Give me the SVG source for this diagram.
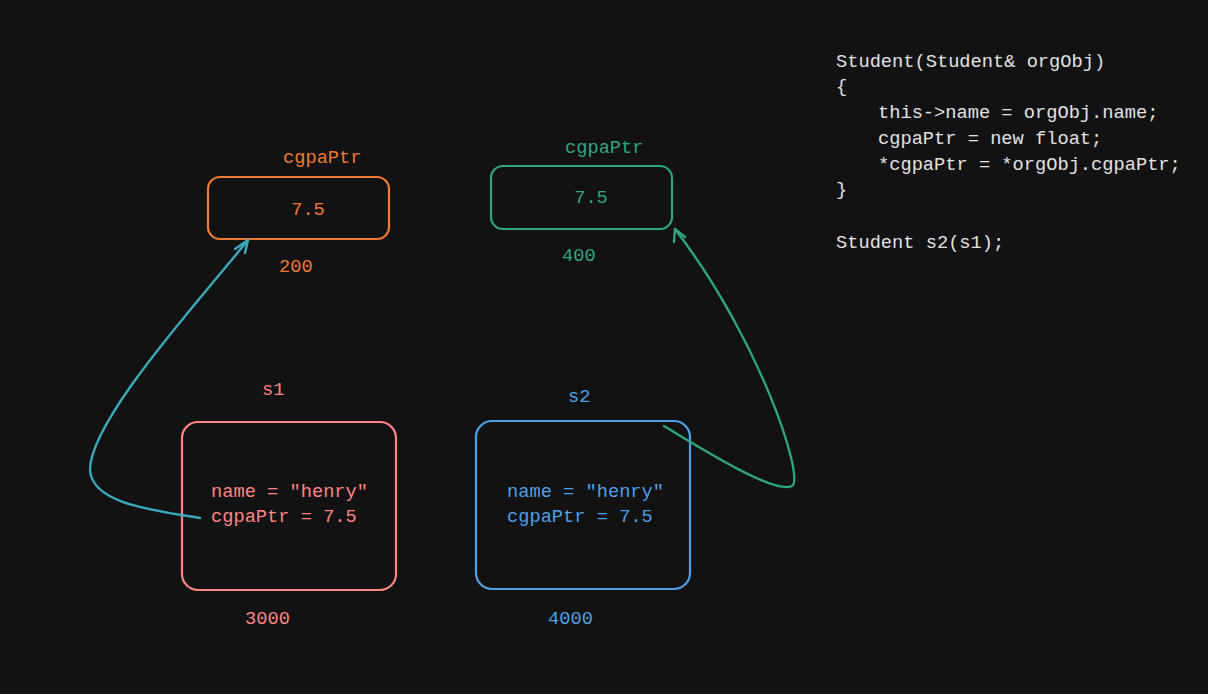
<svg xmlns="http://www.w3.org/2000/svg" width="1208" height="694" viewBox="0 0 1208 694">
<style>
text{font-family:"Liberation Mono","DejaVu Sans Mono",monospace;font-size:18.7px}
.box{fill:none;stroke-width:2.2}
.or{fill:#ee7a35}.orS{stroke:#ee7a35}
.gr{fill:#2fa57f}.grS{stroke:#2fa57f}
.pk{fill:#ff8585}.pkS{stroke:#ff8585}
.bl{fill:#4fa0e6}.blS{stroke:#4fa0e6}
.code{fill:#e2e2e2}
.conn{fill:none;stroke-width:2.4;stroke-linecap:round;stroke-linejoin:round}
</style>
<rect width="1208" height="694" fill="#121212"/>
<g id="code">
<text class="code" x="836" y="67">Student(Student&amp; orgObj)</text>
<text class="code" x="836" y="92">{</text>
<text class="code" x="878" y="118">this-&gt;name = orgObj.name;</text>
<text class="code" x="878" y="144">cgpaPtr = new float;</text>
<text class="code" x="878" y="170">*cgpaPtr = *orgObj.cgpaPtr;</text>
<text class="code" x="836" y="195">}</text>
<text class="code" x="836" y="248">Student s2(s1);</text>
</g>
<g id="ptr1">
<text class="or" x="283" y="163">cgpaPtr</text>
<rect class="box orS" x="208" y="177" width="181" height="62" rx="12"/>
<text class="or" x="308" y="215" text-anchor="middle">7.5</text>
<text class="or" x="279" y="272">200</text>
</g>
<g id="ptr2">
<text class="gr" x="565" y="153">cgpaPtr</text>
<rect class="box grS" x="491" y="166" width="181" height="63" rx="12"/>
<text class="gr" x="591" y="203" text-anchor="middle">7.5</text>
<text class="gr" x="562" y="261">400</text>
</g>
<g id="s1">
<text class="pk" x="262" y="395">s1</text>
<rect class="box pkS" x="182" y="422" width="214" height="168" rx="16"/>
<text class="pk" x="211" y="497">name = "henry"</text>
<text class="pk" x="211" y="522">cgpaPtr = 7.5</text>
<text class="pk" x="245" y="624">3000</text>
</g>
<g id="s2">
<text class="bl" x="568" y="402">s2</text>
<rect class="box blS" x="476" y="421" width="214" height="168" rx="16"/>
<text class="bl" x="507" y="497">name = "henry"</text>
<text class="bl" x="507" y="522">cgpaPtr = 7.5</text>
<text class="bl" x="548" y="624">4000</text>
</g>
<g id="connectors">
<path class="conn" stroke="#3aa9bb" d="M200,518 C150,510 92,503 90,470 C90,420 200,300 248,240"/>
<path class="conn" stroke="#3aa9bb" d="M235,249 L248,240 L245,253"/>
<path class="conn" stroke="#2fa57f" stroke-width="2.8" d="M664,426 C700,448 775,495 792,486 C805,478 760,340 675,229"/>
<path class="conn" stroke="#2fa57f" d="M674,242 L675,229 L685,237"/>
</g>
</svg>
